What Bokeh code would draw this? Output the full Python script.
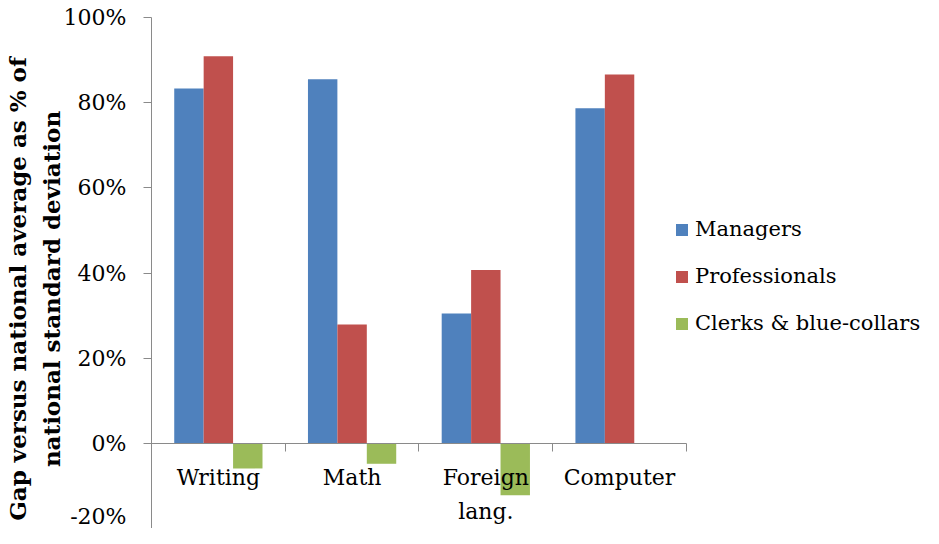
from bokeh.plotting import figure
from bokeh.models import Range1d, FixedTicker, NumeralTickFormatter, LinearAxis, Legend, LegendItem
from bokeh.embed import file_html
from bokeh.resources import INLINE

categories = ["Writing", "Math", "Foreign\nlang.", "Computer"]
series_names = ["Managers", "Professionals", "Clerks & blue-collars"]
managers = [0.833, 0.855, 0.305, 0.787]
professionals = [0.909, 0.279, 0.407, 0.866]
clerks = [-0.059, -0.048, -0.122, 0.0]
colors = ["#4F81BD", "#C0504D", "#9BBB59"]
y_ticks = [-0.2, 0.0, 0.2, 0.4, 0.6, 0.8, 1.0]
y_title = ["Gap versus national average as % of", "national standard deviation"]

FONT = "DejaVu Serif"
GRAY = "#8a8a8a"
BAR_W = 0.22
PAD = "\u00a0" * 4         # shifts the centred title slightly toward the bottom

W, H = 923, 528
LEFT = 148
BARS_W = 537               # pixel width of the category area
FRAME_W = W - LEFT         # frame extends to the right edge so the legend fits
n = len(categories)
x_end = n * FRAME_W / BARS_W

p = figure(width=W, height=H, x_range=Range1d(0, x_end), y_range=Range1d(-0.2, 1.0),
           output_backend="svg", toolbar_location=None, x_axis_location=None,
           min_border_left=LEFT, min_border_right=0, min_border_top=17, min_border_bottom=0)
p.outline_line_color = None
p.xgrid.visible = False
p.ygrid.visible = False

renderers = []
for k, (vals, col) in enumerate(zip([managers, professionals, clerks], colors)):
    xs = [i + 0.5 + (k - 1) * BAR_W for i in range(n)]
    r = p.vbar(x=xs, top=vals, bottom=0, width=BAR_W, fill_color=col, line_color=None)
    renderers.append(r)

# y axis
ya = p.yaxis[0]
ya.ticker = FixedTicker(ticks=y_ticks)
ya.formatter = NumeralTickFormatter(format="0%")
ya.major_tick_in = 0
ya.major_tick_out = 8
ya.minor_tick_line_color = None
ya.axis_line_color = GRAY
ya.major_tick_line_color = GRAY
ya.major_label_text_font = FONT
ya.major_label_text_font_size = "22px"
ya.major_label_text_color = "#000000"
ya.major_label_standoff = 17
ya.axis_label = "\n".join(line + PAD for line in y_title)
ya.axis_label_text_font = FONT
ya.axis_label_text_font_style = "bold"
ya.axis_label_text_font_size = "23px"
ya.axis_label_text_color = "#000000"
ya.axis_label_text_line_height = 1.25
ya.axis_label_standoff = -4

# x axis line with ticks at category boundaries
xa = LinearAxis(fixed_location=0, ticker=FixedTicker(ticks=list(range(n + 1))),
                major_label_overrides={i: "" for i in range(n + 1)}, bounds=(0, n))
xa.major_tick_in = 0
xa.major_tick_out = 8
xa.minor_tick_line_color = None
xa.axis_line_color = GRAY
xa.major_tick_line_color = GRAY
xa.major_label_text_font_size = "1px"
p.add_layout(xa, "below")

# category labels
centers = [i + 0.5 for i in range(n)]
xl = LinearAxis(fixed_location=0, ticker=FixedTicker(ticks=centers),
                major_label_overrides={c: lab for c, lab in zip(centers, categories)})
xl.axis_line_color = None
xl.major_tick_line_color = None
xl.minor_tick_line_color = None
xl.major_tick_in = 0
xl.major_tick_out = 0
xl.major_label_standoff = 22
xl.major_label_text_font = FONT
xl.major_label_text_font_size = "22px"
xl.major_label_text_color = "#000000"
xl.major_label_text_line_height = 1.36
p.add_layout(xl, "below")

legend = Legend(items=[LegendItem(label=s, renderers=[r]) for s, r in zip(series_names, renderers)],
                location=(523, 193))
legend.border_line_color = None
legend.background_fill_alpha = 0
legend.padding = 0
legend.margin = 0
legend.glyph_width = 15
legend.glyph_height = 15
legend.label_height = 15
legend.spacing = 23
legend.label_standoff = 6
legend.label_text_font = FONT
legend.label_text_font_size = "21px"
legend.label_text_color = "#000000"
p.add_layout(legend)

open("out.html", "w").write(file_html(p, INLINE))
